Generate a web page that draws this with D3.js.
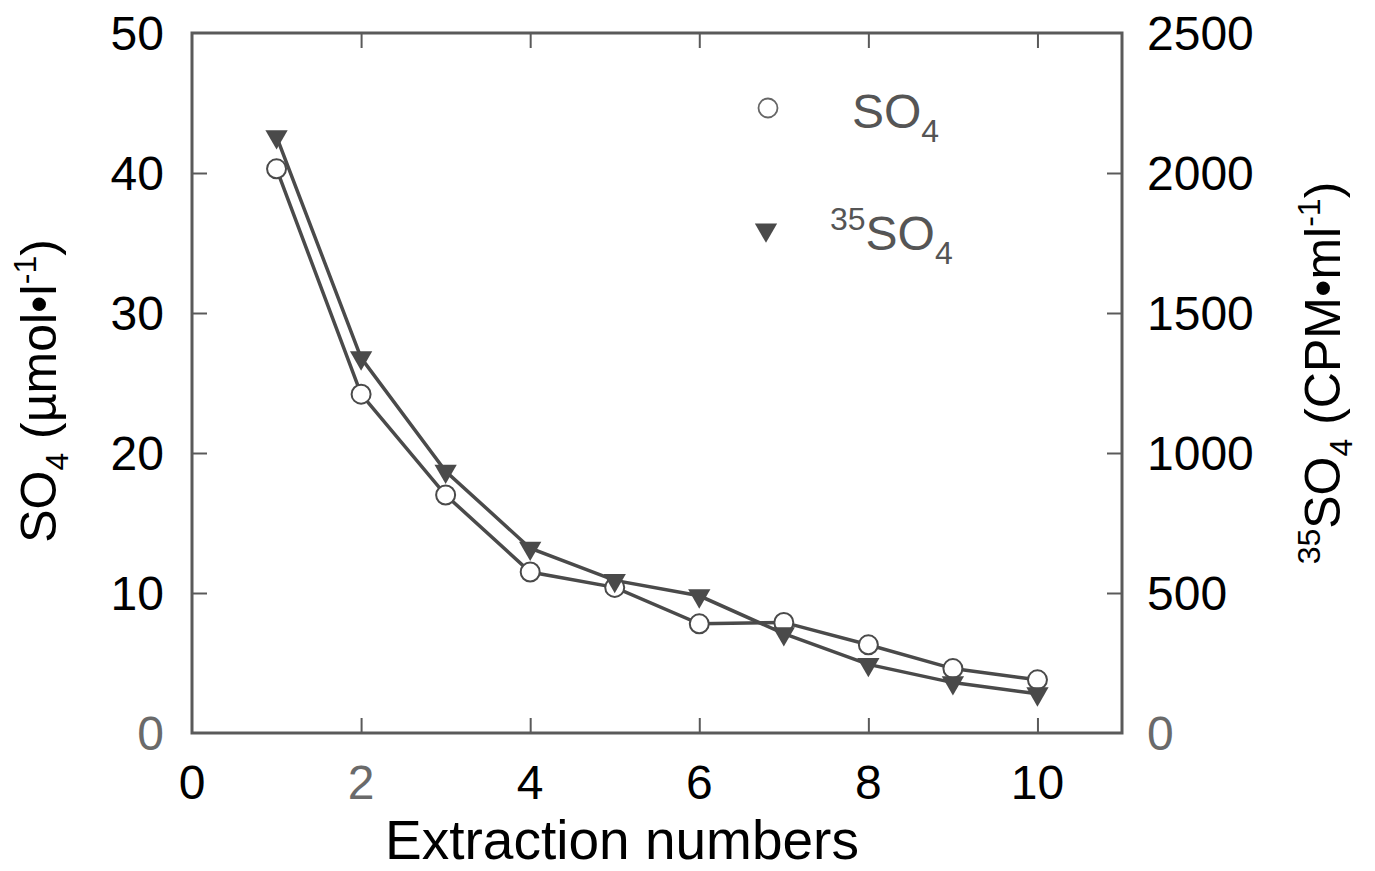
<!DOCTYPE html>
<html>
<head>
<meta charset="utf-8">
<script src="https://cdn.jsdelivr.net/npm/d3@7"></script>
<style>
  body { margin: 0; background: #fff; }
  text { font-family: "Liberation Sans", Arial, sans-serif; }
</style>
</head>
<body>
<svg id="chart" width="1375" height="871"></svg>
<script>
// extraction number on x
extractions = [1, 2, 3, 4, 5, 6, 7, 8, 9, 10];
// SO4 (µmol·l-1), left axis, open circles
so4 = [40.3, 24.2, 17.0, 11.5, 10.4, 7.8, 7.9, 6.3, 4.6, 3.8];
// 35SO4 (CPM·ml-1), right axis, filled triangles
so4_35 = [2130, 1340, 935, 660, 545, 490, 355, 245, 180, 140];

xTicks = [0, 2, 4, 6, 8, 10];
leftTicks = [0, 10, 20, 30, 40, 50];
rightTicks = [0, 500, 1000, 1500, 2000, 2500];

margin = {top: 33, right: 253, bottom: 138, left: 192};
width = 1375;
height = 871;

x = d3.scaleLinear().domain([0, 11]).range([margin.left, width - margin.right]);
yL = d3.scaleLinear().domain([0, 50]).range([height - margin.bottom, margin.top]);
yR = d3.scaleLinear().domain([0, 2500]).range([height - margin.bottom, margin.top]);

const ink = "#4a4a4a";
const svg = d3.select("#chart");

// frame
svg.append("rect")
    .attr("x", x(0)).attr("y", yL(50))
    .attr("width", x(11) - x(0)).attr("height", yL(0) - yL(50))
    .attr("fill", "none").attr("stroke", "#5a5a5a").attr("stroke-width", 3);

// inward ticks on all four sides, labels drawn separately
function ticksOnly(axis) {
  return g => { g.call(axis); g.select(".domain").remove(); g.selectAll("text").remove();
    g.selectAll("line").attr("stroke", "#5a5a5a").attr("stroke-width", 2); };
}
svg.append("g").attr("transform", `translate(0,${yL(0)})`)
  .call(ticksOnly(d3.axisTop(x).tickValues(xTicks.filter(d => d > 0)).tickSize(15)));
svg.append("g").attr("transform", `translate(0,${yL(50)})`)
  .call(ticksOnly(d3.axisBottom(x).tickValues(xTicks.filter(d => d > 0)).tickSize(15)));
svg.append("g").attr("transform", `translate(${x(0)},0)`)
  .call(ticksOnly(d3.axisRight(yL).tickValues(leftTicks.slice(1, -1)).tickSize(15)));
svg.append("g").attr("transform", `translate(${x(11)},0)`)
  .call(ticksOnly(d3.axisLeft(yR).tickValues(rightTicks.slice(1, -1)).tickSize(15)));

// tick labels
const greyLabel = "#6a6a6a";
svg.append("g").selectAll("text").data(xTicks).join("text")
    .attr("x", d => x(d)).attr("y", yL(0) + 66)
    .attr("text-anchor", "middle").attr("font-size", 48)
    .attr("fill", d => d === 2 ? greyLabel : "#000")
    .text(d => d);
svg.append("g").selectAll("text").data(leftTicks).join("text")
    .attr("x", x(0) - 28).attr("y", d => yL(d) + 17)
    .attr("text-anchor", "end").attr("font-size", 48)
    .attr("fill", d => d === 0 ? greyLabel : "#000")
    .text(d => d);
svg.append("g").selectAll("text").data(rightTicks).join("text")
    .attr("x", x(11) + 25).attr("y", d => yR(d) + 17)
    .attr("text-anchor", "start").attr("font-size", 48)
    .attr("fill", d => d === 0 ? greyLabel : "#000")
    .text(d => d);

// axis titles
svg.append("text")
    .attr("x", (x(0) + x(11)) / 2 - 35).attr("y", 859)
    .attr("text-anchor", "middle").attr("font-size", 55).attr("fill", "#000")
    .text("Extraction numbers");

const lt = svg.append("text")
    .attr("transform", `translate(56,${(yL(0) + yL(50)) / 2 + 8}) rotate(-90)`)
    .attr("text-anchor", "middle").attr("font-size", 50).attr("fill", "#000");
lt.append("tspan").text("SO");
lt.append("tspan").attr("font-size", 32).attr("dy", 12).text("4");
lt.append("tspan").attr("dy", -12).text(" (µmol•l");
lt.append("tspan").attr("font-size", 32).attr("dy", -20).text("-1");
lt.append("tspan").attr("dy", 20).text(")");

const rt = svg.append("text")
    .attr("transform", `translate(1340,${(yR(0) + yR(2500)) / 2 - 10}) rotate(-90)`)
    .attr("text-anchor", "middle").attr("font-size", 50).attr("fill", "#000");
rt.append("tspan").attr("font-size", 32).attr("dy", -20).text("35");
rt.append("tspan").attr("dy", 20).text("SO");
rt.append("tspan").attr("font-size", 32).attr("dy", 12).text("4");
rt.append("tspan").attr("dy", -12).text(" (CPM•ml");
rt.append("tspan").attr("font-size", 32).attr("dy", -20).text("-1");
rt.append("tspan").attr("dy", 20).text(")");

// series lines
const lineL = d3.line().x((d, i) => x(extractions[i])).y(d => yL(d));
const lineR = d3.line().x((d, i) => x(extractions[i])).y(d => yR(d));
svg.append("path").datum(so4).attr("d", lineL)
    .attr("fill", "none").attr("stroke", ink).attr("stroke-width", 3.5);
svg.append("path").datum(so4_35).attr("d", lineR)
    .attr("fill", "none").attr("stroke", ink).attr("stroke-width", 3.5);

// markers
const tri = d3.symbol().type(d3.symbolTriangle).size(215);
svg.append("g").selectAll("circle").data(so4).join("circle")
    .attr("cx", (d, i) => x(extractions[i])).attr("cy", d => yL(d)).attr("r", 9.5)
    .attr("fill", "#fff").attr("stroke", ink).attr("stroke-width", 2);
svg.append("g").selectAll("path").data(so4_35).join("path")
    .attr("d", tri)
    .attr("transform", (d, i) => `translate(${x(extractions[i])},${yR(d)}) rotate(180)`)
    .attr("fill", ink);

// legend
svg.append("circle").attr("cx", 768).attr("cy", 108).attr("r", 9.5)
    .attr("fill", "#fff").attr("stroke", "#666").attr("stroke-width", 1.8);
svg.append("path").attr("d", tri)
    .attr("transform", "translate(766,230) rotate(180)").attr("fill", ink);

const l1 = svg.append("text").attr("x", 852).attr("y", 128)
    .attr("font-size", 48).attr("fill", "#555");
l1.append("tspan").text("SO");
l1.append("tspan").attr("font-size", 32).attr("dy", 14).text("4");

const l2 = svg.append("text").attr("x", 830).attr("y", 250)
    .attr("font-size", 48).attr("fill", "#555");
l2.append("tspan").attr("font-size", 32).attr("dy", -20).text("35");
l2.append("tspan").attr("dy", 20).text("SO");
l2.append("tspan").attr("font-size", 32).attr("dy", 14).text("4");
</script>
</body>
</html>
